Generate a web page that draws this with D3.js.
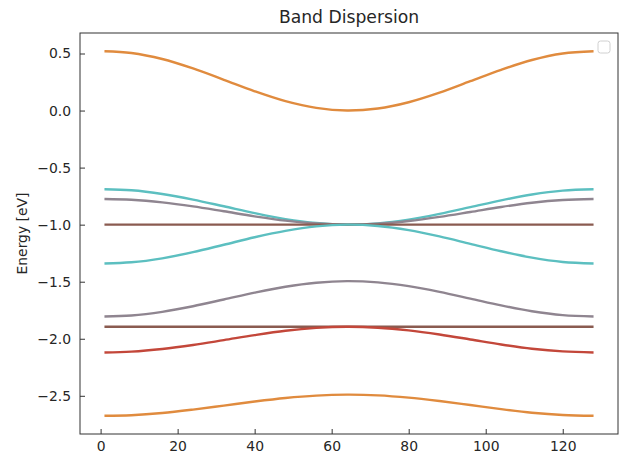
<!DOCTYPE html>
<html>
<head>
<meta charset="utf-8">
<script src="https://cdn.jsdelivr.net/npm/d3@7"></script>
<style>
  html, body { margin: 0; padding: 0; background: #fff; }
  svg { display: block; font-family: "DejaVu Sans", sans-serif; }
</style>
</head>
<body>
<svg id="chart" width="621" height="454"></svg>
<script>
// k-point index (x) at which the band energies were read
const kIndex = [1, 8, 16, 24, 32, 40, 48, 56, 64, 72, 80, 88, 96, 104, 112, 120, 128];

// band energies in eV
const band1 = [0.520, 0.505, 0.452, 0.369, 0.270, 0.169, 0.082, 0.023, 0.000, 0.018, 0.073, 0.157, 0.257, 0.357, 0.443, 0.500, 0.520];
const band2 = [-0.690, -0.699, -0.731, -0.780, -0.839, -0.899, -0.951, -0.986, -1.000, -0.989, -0.956, -0.906, -0.847, -0.787, -0.736, -0.702, -0.690];
const band3 = [-0.775, -0.782, -0.805, -0.840, -0.883, -0.927, -0.965, -0.990, -1.000, -0.992, -0.968, -0.932, -0.889, -0.845, -0.808, -0.784, -0.775];
const band4 = [-1.000, -1.000, -1.000, -1.000, -1.000, -1.000, -1.000, -1.000, -1.000, -1.000, -1.000, -1.000, -1.000, -1.000, -1.000, -1.000, -1.000];
const band5 = [-1.340, -1.330, -1.295, -1.241, -1.176, -1.110, -1.054, -1.015, -1.000, -1.012, -1.048, -1.103, -1.168, -1.233, -1.289, -1.327, -1.340];
const band6 = [-1.805, -1.796, -1.764, -1.715, -1.656, -1.596, -1.544, -1.509, -1.495, -1.506, -1.539, -1.589, -1.648, -1.708, -1.759, -1.793, -1.805];
const band7 = [-1.895, -1.895, -1.895, -1.895, -1.895, -1.895, -1.895, -1.895, -1.895, -1.895, -1.895, -1.895, -1.895, -1.895, -1.895, -1.895, -1.895];
const band8 = [-2.120, -2.113, -2.090, -2.055, -2.012, -1.968, -1.930, -1.905, -1.895, -1.903, -1.927, -1.963, -2.006, -2.050, -2.087, -2.111, -2.120];
const band9 = [-2.675, -2.670, -2.651, -2.621, -2.586, -2.550, -2.519, -2.498, -2.490, -2.496, -2.516, -2.546, -2.581, -2.617, -2.648, -2.668, -2.675];

const bands = [band1, band2, band3, band4, band5, band6, band7, band8, band9];
const bandColors = ["#e08b3e", "#5cbfc0", "#8f8590", "#8a5b50", "#5cbfc0", "#8f8590", "#8a5b50", "#c3473a", "#e08b3e"];

const xTicks = [0, 20, 40, 60, 80, 100, 120];
const yTicks = [0.5, 0.0, -0.5, -1.0, -1.5, -2.0, -2.5];

const title = "Band Dispersion";
const yLabel = "Energy [eV]";

(function () {
  // layout
  const mLeft = 80, mRight = 618, mTop = 33, mBottom = 434;
  const svg = d3.select("#chart");

  const xMin = d3.min(kIndex), xMax = d3.max(kIndex);
  const xPad = (xMax - xMin) * 0.05;
  const allY = bands.flat();
  const yMin = d3.min(allY), yMax = d3.max(allY);
  const yPad = (yMax - yMin) * 0.05;

  const x = d3.scaleLinear().domain([xMin - xPad, xMax + xPad]).range([mLeft, mRight]);
  const y = d3.scaleLinear().domain([yMin - yPad, yMax + yPad]).range([mBottom, mTop]);

  // lines
  const line = d3.line()
    .x((d, i) => x(kIndex[i]))
    .y(d => y(d))
    .curve(d3.curveCatmullRom.alpha(0.5));

  svg.append("g").selectAll("path")
    .data(bands)
    .join("path")
    .attr("d", d => line(d))
    .attr("fill", "none")
    .attr("stroke", (d, i) => bandColors[i])
    .attr("stroke-width", 2.4)
    .attr("stroke-linecap", "butt");

  // axes
  const fmtY = d => d3.format(".1f")(d).replace("-", "\u2212");
  const xAxis = d3.axisBottom(x).tickValues(xTicks).tickSize(-5).tickPadding(7).tickFormat(d3.format("d"));
  const yAxis = d3.axisLeft(y).tickValues(yTicks).tickSize(-5).tickPadding(9).tickFormat(fmtY);

  const gx = svg.append("g").attr("transform", `translate(0,${mBottom})`).call(xAxis);
  const gy = svg.append("g").attr("transform", `translate(${mLeft},0)`).call(yAxis);
  [gx, gy].forEach(g => {
    g.select(".domain").remove();
    g.selectAll(".tick line").attr("stroke", "#333").attr("stroke-width", 1);
    g.selectAll(".tick text").attr("fill", "#262626").style("font-size", "13.9px")
      .style("font-family", "'DejaVu Sans', sans-serif");
  });
  gx.selectAll(".tick text").attr("dy", "0.71em");

  // frame
  svg.append("rect")
    .attr("x", mLeft).attr("y", mTop)
    .attr("width", mRight - mLeft).attr("height", mBottom - mTop)
    .attr("fill", "none").attr("stroke", "#333").attr("stroke-width", 1);

  // empty legend box
  svg.append("rect")
    .attr("x", 598).attr("y", 41).attr("width", 12).attr("height", 12)
    .attr("rx", 2.5).attr("fill", "#fff").attr("stroke", "#d0d0d0").attr("stroke-width", 1);

  // title
  svg.append("text")
    .attr("x", (mLeft + mRight) / 2).attr("y", 23)
    .attr("text-anchor", "middle")
    .attr("fill", "#262626")
    .style("font-size", "17.2px")
    .text(title);

  // y label
  svg.append("text")
    .attr("transform", `translate(27,${(mTop + mBottom) / 2}) rotate(-90)`)
    .attr("text-anchor", "middle")
    .attr("fill", "#262626")
    .style("font-size", "13.9px")
    .text(yLabel);
})();
</script>
</body>
</html>
